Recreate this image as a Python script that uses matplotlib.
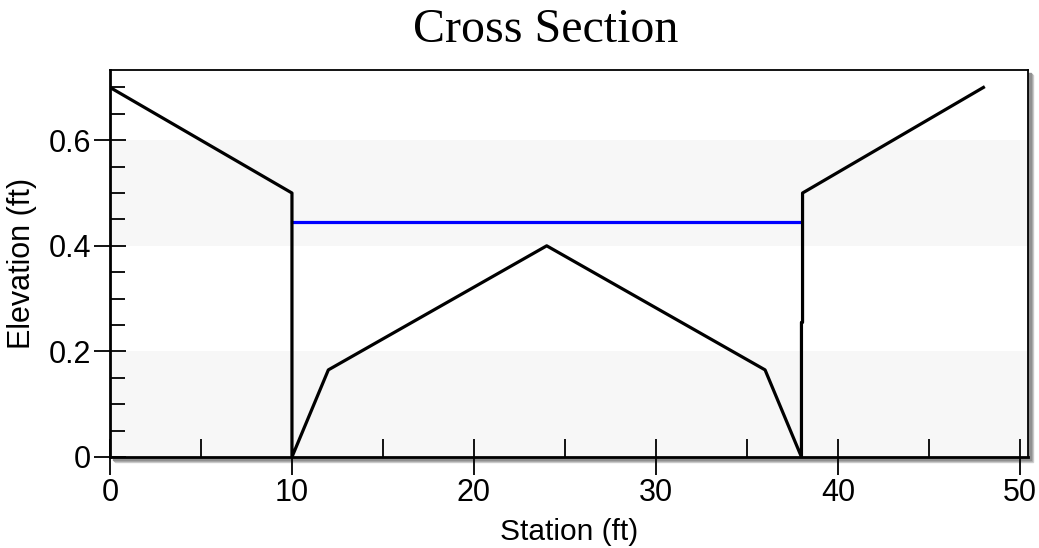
import matplotlib
matplotlib.use("Agg")
import numpy as np
import matplotlib.pyplot as plt
from matplotlib.patches import Rectangle
from matplotlib.ticker import MultipleLocator

# ground profile (station, elevation)
station = [0, 10, 10, 12, 24, 36, 38, 38, 38.06, 38.06, 48]
elevation = [0.7, 0.5, 0.0, 0.165, 0.4, 0.165, 0.0, 0.255, 0.255, 0.5, 0.7]

# water surface
ws_station = [10, 38]
ws_elev = [0.445, 0.445]

x_ticks = [0, 10, 20, 30, 40, 50]
y_ticks = [0, 0.2, 0.4, 0.6]
y_tick_labels = ["0", "0.2", "0.4", "0.6"]

plt.rcParams['font.family'] = ['Liberation Sans', 'DejaVu Sans']

fig = plt.figure(figsize=(10.39, 5.48), dpi=100)
W, H = 1039, 548
left, right, top, bottom = 110, 1028, 70, 457
ax = fig.add_axes([left / W, 1 - bottom / H, (right - left) / W, (bottom - top) / H])

# soft drop shadow behind the plot frame
for off, col in [(5, '#d0d0d0'), (4, '#b0b0b0'), (3, '#909090')]:
    fig.patches.append(Rectangle(((left + off) / W, 1 - (bottom + off) / H),
                                 (right - left) / W, (bottom - top) / H,
                                 transform=fig.transFigure, color=col, zorder=-1))

# alternating bands
for lo in [0.0, 0.4]:
    ax.axhspan(lo, lo + 0.2, color='#f7f7f7', lw=0, zorder=0)

ax.plot(station, elevation, color='black', lw=2.3, zorder=3)
ax.plot(ws_station, ws_elev, color='#0000ff', lw=2.3, zorder=2)

ax.set_xlim(0, 50.45)
ax.set_ylim(0, 0.733)
ax.set_xticks(x_ticks)
ax.set_yticks(y_ticks)
ax.set_yticklabels(y_tick_labels)
ax.xaxis.set_minor_locator(MultipleLocator(5))
ax.yaxis.set_minor_locator(MultipleLocator(0.05))

ax.tick_params(axis='x', which='major', direction='inout', length=26, width=1.3,
               labelsize=22, pad=2, top=False)
ax.tick_params(axis='x', which='minor', direction='in', length=13, width=1.3, top=False)
ax.tick_params(axis='y', which='major', direction='inout', length=23, width=1.3,
               labelsize=22, pad=2, right=False)
ax.tick_params(axis='y', which='minor', direction='in', length=11, width=1.3, right=False)

for s in ['left', 'bottom']:
    ax.spines[s].set_linewidth(2)
for s in ['top', 'right']:
    ax.spines[s].set_linewidth(1.3)

ax.set_xlabel("Station (ft)", fontsize=21.5)
ax.xaxis.set_label_coords(0.5, -0.158)
ax.set_ylabel("Elevation (ft)", fontsize=22)
ax.yaxis.set_label_coords(-0.08, 0.5)

fig.text(546 / W, 1 - 42 / H, "Cross Section", family=['Liberation Serif', 'DejaVu Serif'],
         fontsize=34.5, ha='center', va='baseline')

fig.savefig("out.png", dpi=100)
